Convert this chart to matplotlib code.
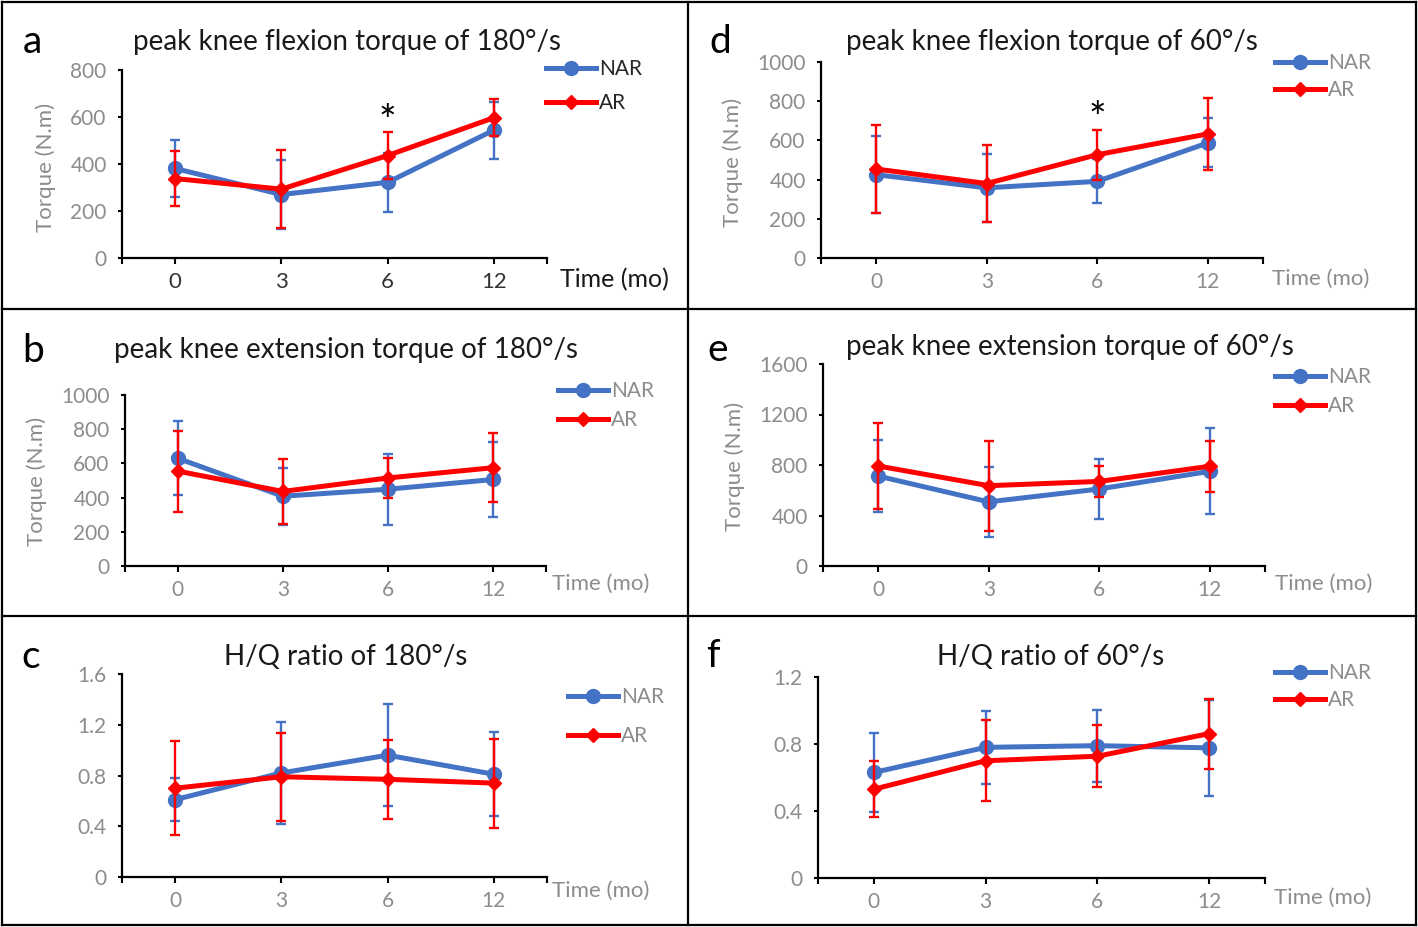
import numpy as np
import matplotlib
matplotlib.use('Agg')
import matplotlib.pyplot as plt
from matplotlib.lines import Line2D
from matplotlib.ticker import FuncFormatter

plt.rcParams['font.family'] = ['Lato', 'DejaVu Sans']

# ---------------- data ----------------
time_labels = ['0', '3', '6', '12']

# a: peak knee flexion torque of 180°/s
flex180_nar = [381, 270, 322, 544]
flex180_nar_sd = [122, 148, 125, 121]
flex180_ar = [338, 293, 436, 597]
flex180_ar_sd = [117, 167, 100, 78]

# b: peak knee extension torque of 180°/s
ext180_nar = [630, 408, 449, 506]
ext180_nar_sd = [216, 168, 207, 218]
ext180_ar = [555, 436, 515, 575]
ext180_ar_sd = [237, 188, 118, 202]

# c: H/Q ratio of 180°/s
hq180_nar = [0.61, 0.82, 0.96, 0.81]
hq180_nar_sd = [0.17, 0.40, 0.40, 0.33]
hq180_ar = [0.70, 0.79, 0.77, 0.74]
hq180_ar_sd = [0.37, 0.345, 0.31, 0.35]

# d: peak knee flexion torque of 60°/s
flex60_nar = [425, 358, 391, 587]
flex60_nar_sd = [195, 173, 112, 125]
flex60_ar = [454, 380, 527, 633]
flex60_ar_sd = [226, 195, 128, 183]

# e: peak knee extension torque of 60°/s
ext60_nar = [712, 508, 610, 750]
ext60_nar_sd = [287, 278, 240, 340]
ext60_ar = [792, 636, 670, 790]
ext60_ar_sd = [337, 358, 120, 203]

# f: H/Q ratio of 60°/s
hq60_nar = [0.63, 0.78, 0.79, 0.777]
hq60_nar_sd = [0.237, 0.217, 0.215, 0.285]
hq60_ar = [0.53, 0.70, 0.727, 0.862]
hq60_ar_sd = [0.168, 0.242, 0.184, 0.209]

BLUE = '#4472C4'
RED = '#FF0000'
GRAY = '#8c8c8c'

W, H = 1418, 927
fig = plt.figure(figsize=(W / 100, H / 100), dpi=100)


def fx(x):
    return x / W


def fy(y):
    return 1 - y / H


# panel settings: axes box in pixels (left, right, top, bottom), text positions
panels = [
    dict(letter='a', title='peak knee flexion torque of 180°/s',
         nar=flex180_nar, nar_sd=flex180_nar_sd, ar=flex180_ar, ar_sd=flex180_ar_sd,
         box=(122, 547, 70, 258), yticks=np.arange(0, 801, 200),
         letter_xy=(32, 53), title_xy=(347, 50), ylab_xy=(46, 167),
         time_xy=(560, 287), leg_xy=(546, 69, 103), star=(2, 574), dark=True),
    dict(letter='b', title='peak knee extension torque of 180°/s',
         nar=ext180_nar, nar_sd=ext180_nar_sd, ar=ext180_ar, ar_sd=ext180_ar_sd,
         box=(125, 546, 395, 566), yticks=np.arange(0, 1001, 200),
         letter_xy=(33, 362), title_xy=(346, 358), ylab_xy=(37, 481),
         time_xy=(552, 590), leg_xy=(558, 391, 420), star=None, dark=False),
    dict(letter='c', title='H/Q ratio of 180°/s',
         nar=hq180_nar, nar_sd=hq180_nar_sd, ar=hq180_ar, ar_sd=hq180_ar_sd,
         box=(122, 547, 674, 877), yticks=np.arange(0, 1.61, 0.4),
         letter_xy=(31, 668), title_xy=(346, 665), ylab_xy=None,
         time_xy=(552, 897), leg_xy=(568, 697, 736), star=None, dark=False),
    dict(letter='d', title='peak knee flexion torque of 60°/s',
         nar=flex60_nar, nar_sd=flex60_nar_sd, ar=flex60_ar, ar_sd=flex60_ar_sd,
         box=(821, 1263, 62, 258), yticks=np.arange(0, 1001, 200),
         letter_xy=(720, 53), title_xy=(1052, 50), ylab_xy=(733, 162),
         time_xy=(1272, 285), leg_xy=(1275, 63, 90), star=(2, 704), dark=False),
    dict(letter='e', title='peak knee extension torque of 60°/s',
         nar=ext60_nar, nar_sd=ext60_nar_sd, ar=ext60_ar, ar_sd=ext60_ar_sd,
         box=(823, 1265, 364, 566), yticks=np.arange(0, 1601, 400),
         letter_xy=(718, 361), title_xy=(1070, 355), ylab_xy=(735, 466),
         time_xy=(1275, 590), leg_xy=(1275, 377, 406), star=None, dark=False),
    dict(letter='f', title='H/Q ratio of 60°/s',
         nar=hq60_nar, nar_sd=hq60_nar_sd, ar=hq60_ar, ar_sd=hq60_ar_sd,
         box=(818, 1265, 677, 878), yticks=np.arange(0, 1.21, 0.4),
         letter_xy=(713, 667), title_xy=(1051, 665), ylab_xy=None,
         time_xy=(1274, 904), leg_xy=(1275, 673, 700), star=None, dark=False),
]

x = np.arange(len(time_labels))

for p in panels:
    l, r, t, b = p['box']
    ax = fig.add_axes([fx(l), fy(b), (r - l) / W, (b - t) / H])

    ax.errorbar(x, p['nar'], yerr=p['nar_sd'], fmt='none', ecolor=BLUE,
                elinewidth=1.7, capsize=3.6, capthick=1.7, zorder=2)
    h1, = ax.plot(x, p['nar'], color=BLUE, lw=3.6, marker='o', ms=10,
                  zorder=3, label='NAR')
    ax.errorbar(x, p['ar'], yerr=p['ar_sd'], fmt='none', ecolor=RED,
                elinewidth=1.7, capsize=3.6, capthick=1.7, zorder=4)
    h2, = ax.plot(x, p['ar'], color=RED, lw=3.6, marker='D', ms=7,
                  zorder=5, label='AR')

    ax.set_xlim(-0.5, len(time_labels) - 0.5)
    ax.set_ylim(p['yticks'][0], p['yticks'][-1])
    ax.set_xticks(x)
    ax.set_xticks([-0.5, len(time_labels) - 0.5], minor=True)
    ax.set_yticks(p['yticks'])
    ax.yaxis.set_major_formatter(FuncFormatter(lambda v, _: '0' if v == 0 else f'{v:g}'))

    xcol = '#333333' if p['dark'] else GRAY
    xsize = 16 if p['dark'] else 15
    ax.set_xticklabels(time_labels, fontsize=xsize, color=xcol)
    ax.tick_params(axis='x', which='both', direction='out', length=4, width=1.5,
                   pad=6, color='black')
    ax.tick_params(axis='y', direction='out', length=3, width=1.5, pad=8,
                   labelsize=15, labelcolor=GRAY, color='black')

    for s in ['top', 'right']:
        ax.spines[s].set_visible(False)
    for s in ['left', 'bottom']:
        ax.spines[s].set_linewidth(1.6)
        ax.spines[s].set_color('black')

    fs_leg = 15
    lx, ly1, ly2 = p['leg_xy']
    leg = ax.legend(handles=[h1, h2], loc='center left',
                    bbox_to_anchor=(fx(lx), fy((ly1 + ly2) / 2)),
                    bbox_transform=fig.transFigure, frameon=False,
                    borderpad=0, borderaxespad=0,
                    handlelength=2.4, handletextpad=0.15,
                    labelspacing=(ly2 - ly1) / (fs_leg * 1.389) - 0.95,
                    numpoints=1, prop=dict(size=fs_leg))
    for txt in leg.get_texts():
        txt.set_color('#262626' if p['dark'] else GRAY)

    fig.text(fx(p['letter_xy'][0]), fy(p['letter_xy'][1]), p['letter'],
             fontsize=28, ha='center', va='baseline', color='black')
    fig.text(fx(p['title_xy'][0]), fy(p['title_xy'][1]), p['title'],
             fontsize=20, ha='center', va='baseline', color='#1a1a1a')
    fig.text(fx(p['time_xy'][0]), fy(p['time_xy'][1]), 'Time (mo)',
             fontsize=18 if p['dark'] else 16, ha='left', va='baseline',
             color='#1a1a1a' if p['dark'] else GRAY)
    if p['ylab_xy'] is not None:
        fig.text(fx(p['ylab_xy'][0]), fy(p['ylab_xy'][1]), 'Torque (N.m)',
                 fontsize=16, rotation=90, ha='center', va='center', color=GRAY)
    if p['star'] is not None:
        ax.text(p['star'][0], p['star'][1], '*', fontsize=30, ha='center',
                va='center', color='black')

# panel frames
frame = dict(color='black', lw=1.6, transform=fig.transFigure)
for x0, y0, x1, y1 in [(2, 2, 1416, 2), (2, 925, 1416, 925), (2, 2, 2, 925),
                       (1416, 2, 1416, 925), (688, 2, 688, 925),
                       (2, 309, 1416, 309), (2, 616, 1416, 616)]:
    fig.add_artist(Line2D([fx(x0), fx(x1)], [fy(y0), fy(y1)], **frame))

fig.savefig('out.png', dpi=100, facecolor='white')
